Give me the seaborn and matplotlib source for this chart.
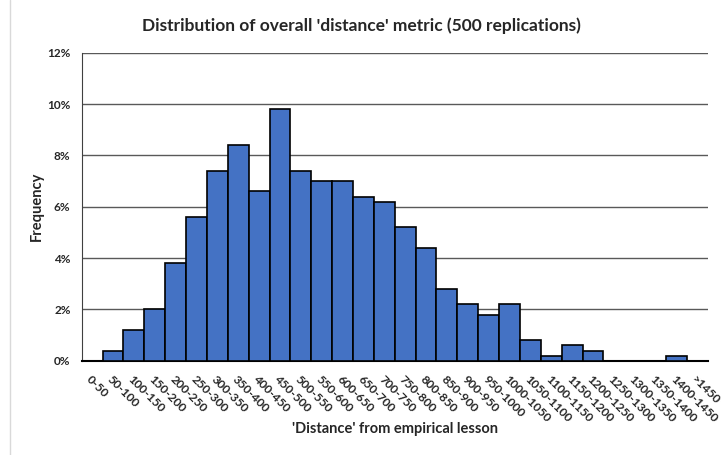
import pandas as pd
import seaborn as sns
import matplotlib.pyplot as plt
from matplotlib.ticker import PercentFormatter

# --- DATA ---
bins = ["0-50", "50-100", "100-150", "150-200", "200-250", "250-300", "300-350",
        "350-400", "400-450", "450-500", "500-550", "550-600", "600-650", "650-700",
        "700-750", "750-800", "800-850", "850-900", "900-950", "950-1000",
        "1000-1050", "1050-1100", "1100-1150", "1150-1200", "1200-1250",
        "1250-1300", "1300-1350", "1350-1400", "1400-1450", ">1450"]
freq_pct = [0.0, 0.4, 1.2, 2.0, 3.8, 5.6, 7.4, 8.4, 6.6, 9.8, 7.4, 7.0, 7.0, 6.4,
            6.2, 5.2, 4.4, 2.8, 2.2, 1.8, 2.2, 0.8, 0.2, 0.6, 0.4, 0.0, 0.0, 0.0,
            0.2, 0.0]
y_ticks = [0, 2, 4, 6, 8, 10, 12]

df = pd.DataFrame({"bin": bins, "freq": freq_pct})

sns.set_style("white")
plt.rcParams['font.family'] = ['Lato', 'DejaVu Sans']

fig = plt.figure(figsize=(7.23, 4.55), dpi=100)
ax = fig.add_axes([0.113, 0.207, 0.866, 0.677])

sns.barplot(data=df, x="bin", y="freq", color="#4472C4", saturation=1,
            width=1.0, edgecolor="black", linewidth=1.2, ax=ax, zorder=3)

ax.set_ylim(0, 12)
ax.set_yticks(y_ticks)
ax.yaxis.set_major_formatter(PercentFormatter(decimals=0))
ax.grid(axis="y", color="#595959", linewidth=1, zorder=0)
ax.set_axisbelow(True)
ax.set_xlim(-0.5, len(bins) - 0.5)

for s in ["top", "right"]:
    ax.spines[s].set_visible(False)
ax.spines["left"].set_color("#404040")
ax.spines["bottom"].set_color("black")
ax.spines["bottom"].set_linewidth(1.5)

ax.tick_params(axis="y", labelsize=8.5, length=0, pad=8)
ax.tick_params(axis="x", labelsize=8.7, length=0, pad=9)
for lbl in ax.get_yticklabels():
    lbl.set_fontweight("bold")
ax.set_xticks(range(len(bins)))
ax.set_xticklabels(bins, rotation=-45, ha="left", rotation_mode="anchor",
                   fontweight="bold")

ax.set_xlabel("'Distance' from empirical lesson", fontsize=10.5,
              fontweight="bold")
ax.set_ylabel("Frequency", fontsize=10.5, fontweight="bold")
ax.xaxis.set_label_coords(0.5, -0.2)
ax.yaxis.set_label_coords(-0.06, 0.5)

fig.suptitle("Distribution of overall 'distance' metric (500 replications)",
             fontsize=12.5, fontweight="bold", y=0.962)

# light frame line at left like the screenshot
fig.add_artist(plt.Line2D([0.014, 0.014], [0, 1], color="#d9d9d9", linewidth=1))

plt.savefig("out.png", dpi=100)
